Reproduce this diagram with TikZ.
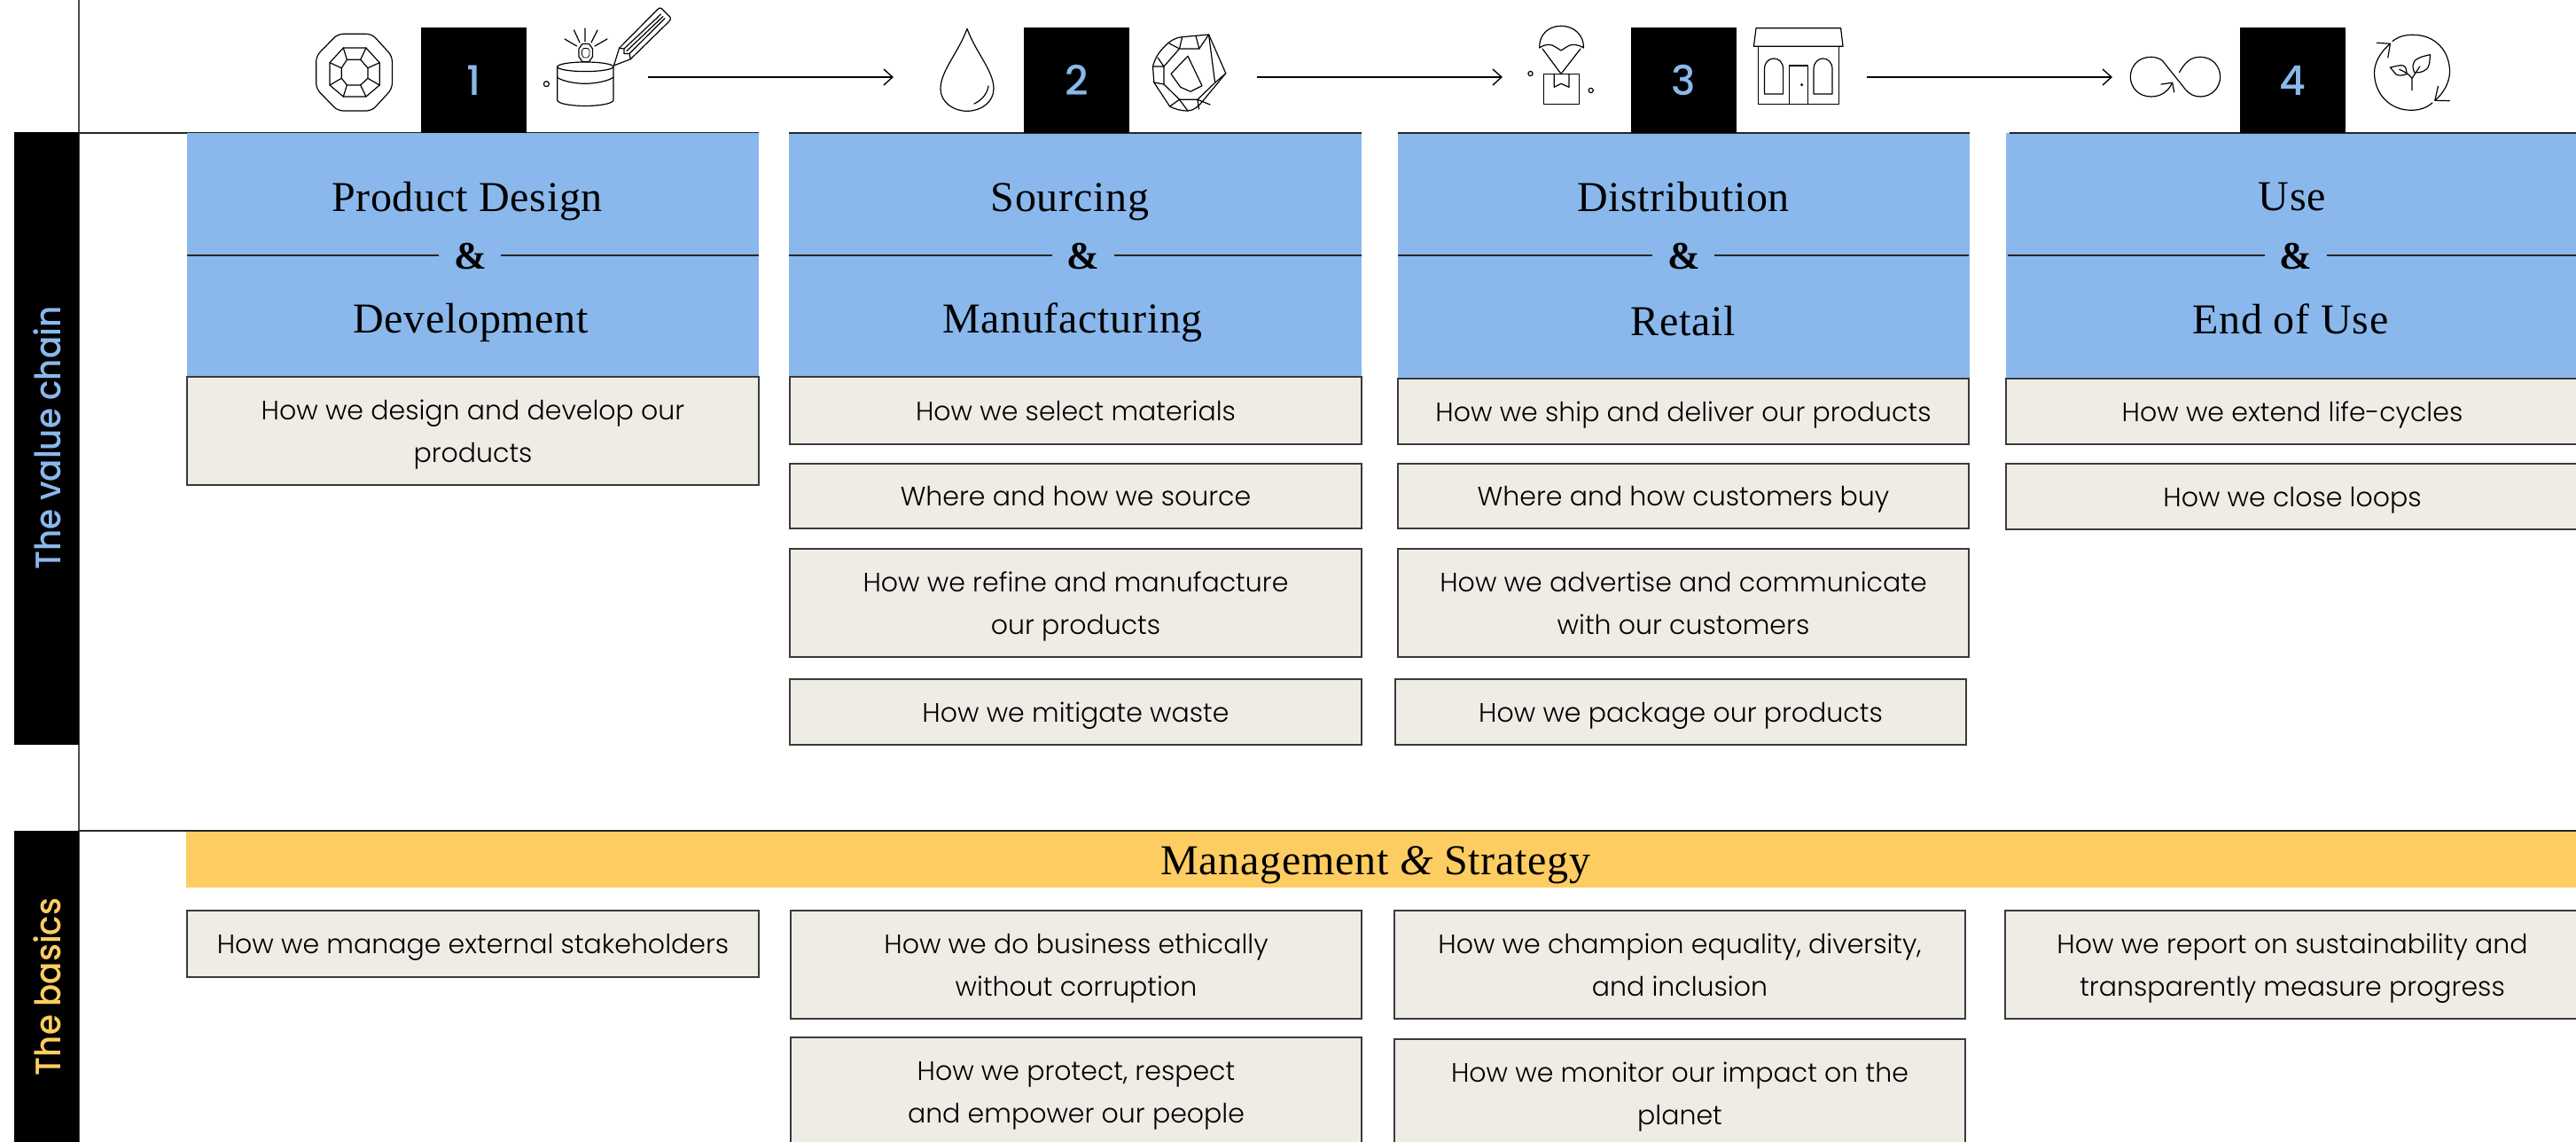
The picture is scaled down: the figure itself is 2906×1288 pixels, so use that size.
\documentclass[tikz,border=0pt]{standalone}
\usepackage{fontspec}
\usetikzlibrary{arrows.meta}
\newfontfamily\bodyf{Poppins Light}
\newfontfamily\sidef{Poppins Medium}
\newfontfamily\numf{Poppins Medium}
\newfontfamily\titlef[LetterSpace=1.5]{Liberation Serif}
\definecolor{hblue}{HTML}{8AB8EC}
\definecolor{hyel}{HTML}{FDCD62}
\definecolor{beige}{HTML}{EEECE4}
\definecolor{edge}{HTML}{3A3A3A}
\newcommand{\tstrut}{\rule[-3.9pt]{0pt}{19.2pt}}
\newcommand{\bx}[6]{%
  \pgfmathsetmacro\bw{(#4-#2)*0.5}\pgfmathsetmacro\bh{(#5-#3)*0.5}%
  \node[cell,minimum width=\bw pt,minimum height=\bh pt] (#1) at ({(#2+#4)/2},{(#3+#5)/2}) {#6};}
\newcommand{\hdr}[4]{%
  \pgfmathsetmacro\bw{(#3-#2)*0.5}\pgfmathsetmacro\bh{(#4-150)*0.5}%
  \node[hdrbox,minimum width=\bw pt,minimum height=\bh pt] (#1) at ({(#2+#3)/2},{(150+#4)/2}) {};}
\newcommand{\blk}[3]{%
  \node[blkbox] (#1) at ({(#2+#2+119)/2},90.5) {#3};}
\tikzset{
  cell/.style={draw=edge,fill=beige,line width=.7pt,inner sep=0pt,align=center,text=black,
    font=\bodyf\fontsize{15}{24}\selectfont},
  hdrbox/.style={fill=hblue,inner sep=0pt,outer sep=0pt},
  blkbox/.style={fill=black,inner sep=0pt,minimum width=59.5pt,minimum height=59.5pt,text=hblue,
    font=\numf\fontsize{23}{24}\selectfont},
  ttl/.style={anchor=base,inner sep=0pt,text=black,font=\titlef\fontsize{24}{26}\selectfont},
  amp/.style={anchor=base,inner sep=0pt,text=black,font=\titlef\bfseries\fontsize{22}{24}\selectfont},
  side/.style={rotate=90,anchor=base,inner sep=0pt,font=\sidef\fontsize{20}{22}\selectfont},
  bar/.style={fill=black,inner sep=0pt,outer sep=0pt,minimum width=36.5pt},
  rule/.style={line width=.7pt,draw=black!85},
  flow/.style={line width=.7pt,draw=black,-{Straight Barb[length=5pt,width=9pt,line width=.7pt]}},
  ico/.style={line width=.6pt,draw=black,line join=round,line cap=round}
}
\begin{document}
\begin{tikzpicture}[x=0.5pt,y=-0.5pt]
\useasboundingbox (0,0) rectangle (2906,1288);
\clip (0,0) rectangle (2906,1288);
\fill[white] (0,0) rectangle (2906,1288);

% frame rules
\draw[line width=.6pt,draw=black!70] (89,0) -- (89,1288);
\draw[rule] (89,150) -- (856,150);

% side bars
\node[bar,minimum height=345.5pt] (barA) at (52.5,494.5) {};
\node[bar,minimum height=180pt] (barB) at (52.5,1117) {};
\node[side,text=hblue] (sideA) at (68,494) {\scalebox{.93}[1]{The value chain}};
\node[side,text=hyel] (sideB) at (68,1113) {\scalebox{.93}[1]{The basics}};

% headers
\hdr{h1}{211}{856}{425}
\hdr{h2}{890}{1536}{425}
\hdr{h3}{1577}{2222}{427}
\hdr{h4}{2263}{2912}{427}
\draw[rule] (h2.north west) -- (h2.north east);
\draw[rule] (h3.north west) -- (h3.north east);
\draw[rule] (2267,150) -- (h4.north east);

% dividers
\draw[rule] (211,288) -- (495,288) (565,288) -- (856,288);
\draw[rule] (890,288) -- (1187,288) (1257,288) -- (1536,288);
\draw[rule] (1577,288) -- (1864,288) (1934,288) -- (2221,288);
\draw[rule] (2265,288) -- (2555,288) (2625,288) -- (2906,288);

% titles
\node[ttl] (t1a) at (527,239) {Product Design};
\node[amp] (t1b) at (531,304) {\&};
\node[ttl] (t1c) at (531,376) {Development};
\node[ttl] (t2a) at (1207,239) {Sourcing};
\node[amp] (t2b) at (1222,304) {\&};
\node[ttl] (t2c) at (1210,376) {Manufacturing};
\node[ttl] (t3a) at (1899,239) {Distribution};
\node[amp] (t3b) at (1900,304) {\&};
\node[ttl] (t3c) at (1899,379) {Retail};
\node[ttl] (t4a) at (2586,238) {Use};
\node[amp] (t4b) at (2590,304) {\&};
\node[ttl] (t4c) at (2584,377) {End of Use};

% value chain boxes
\bx{c1a}{211}{425}{856}{547}{\tstrut How we design and develop our\\\tstrut products}
\bx{c2a}{891}{425}{1536}{501}{\tstrut How we select materials}
\bx{c2b}{891}{523}{1536}{596}{\tstrut Where and how we source}
\bx{c2c}{891}{619}{1536}{741}{\tstrut How we refine and manufacture\\\tstrut our products}
\bx{c2d}{891}{766}{1536}{840}{\tstrut How we mitigate waste}
\bx{c3a}{1577}{427}{2221}{501}{\tstrut How we ship and deliver our products}
\bx{c3b}{1577}{523}{2221}{596}{\tstrut Where and how customers buy}
\bx{c3c}{1577}{619}{2221}{741}{\tstrut How we advertise and communicate\\\tstrut with our customers}
\bx{c3d}{1574}{766}{2218}{840}{\tstrut How we package our products}
\bx{c4a}{2263}{427}{2909}{501}{\tstrut How we extend life-cycles}
\bx{c4b}{2263}{523}{2909}{597}{\tstrut How we close loops}

% basics
\node[fill=hyel,inner sep=0pt,minimum width=1350pt,minimum height=32pt] (mg) at (1560,969) {};
\draw[line width=.8pt,draw=black!85] (89,937) -- (2906,937);
\node[anchor=base,inner sep=0pt,font=\titlef\fontsize{24}{26}\selectfont] (mgt) at (1552,986) {Management {\itshape\&} Strategy};
\bx{d1a}{211}{1027}{856}{1102}{\tstrut How we manage external stakeholders}
\bx{d2a}{892}{1027}{1536}{1149}{\tstrut How we do business ethically\\\tstrut without corruption}
\bx{d2b}{892}{1170}{1536}{1292}{\tstrut How we protect, respect\\\tstrut and empower our people}
\bx{d3a}{1573}{1027}{2217}{1149}{\tstrut How we champion equality, diversity,\\\tstrut and inclusion}
\bx{d3b}{1573}{1172}{2217}{1294}{\tstrut How we monitor our impact on the\\\tstrut planet}
\bx{d4a}{2262}{1027}{2910}{1149}{\tstrut How we report on sustainability and\\\tstrut transparently measure progress}

% step boxes
\blk{n1}{475}{1}
\blk{n2}{1155}{2}
\blk{n3}{1840}{3}
\blk{n4}{2527}{4}

% arrows
\coordinate (a1s) at (731,87); \coordinate (a1e) at (1008,87);
\coordinate (a2s) at (1418,87); \coordinate (a2e) at (1695,87);
\coordinate (a3s) at (2106,87); \coordinate (a3e) at (2383,87);
\draw[flow] (a1s) -- (a1e);
\draw[flow] (a2s) -- (a2e);
\draw[flow] (a3s) -- (a3e);

% icon: cut gem
\draw[ico,rounded corners=3pt] (381,38.3) -- (419.5,38.3) -- (442.4,63.3) -- (442.4,100) -- (419.5,125) -- (381,125) -- (356.7,100) -- (356.7,63.3) -- cycle;
\draw[ico] (387.3,54) -- (412.9,54) -- (428.2,70.7) -- (428.2,96) -- (412.9,109) -- (387.3,109) -- (372,96) -- (372,70.7) -- cycle;
\draw[ico] (391.4,67.3) -- (406.7,67.3) -- (414.9,76.7) -- (414.9,88.3) -- (406.7,96) -- (391.4,96) -- (385.3,88.3) -- (385.3,76.7) -- cycle;
\draw[ico] (387.3,54) -- (391.4,67.3) (412.9,54) -- (406.7,67.3) (428.2,70.7) -- (414.9,76.7) (428.2,96) -- (414.9,88.3)
  (412.9,109) -- (406.7,96) (387.3,109) -- (391.4,96) (372,96) -- (385.3,88.3) (372,70.7) -- (385.3,76.7);

% icon: jar, small gem, pencil
\draw[ico] (660.3,75.3) circle[x radius=31.6,y radius=5.3];
\draw[ico] (628.7,75.3) -- (628.7,113) .. controls (629,117) and (645,119.5) .. (660.3,119.5) .. controls (675,119.5) and (691.5,117) .. (691.9,113) -- (691.9,75.3);
\draw[ico] (628.7,87.3) .. controls (635,92) and (650,94.3) .. (660.3,94.3) .. controls (670,94.3) and (685,92) .. (691.9,87.3);
\draw[ico] (616.4,94.7) circle[radius=3];
\draw[ico] (657,49.5) -- (664.5,49.5) -- (668.5,55) -- (668.5,64) -- (664.5,69.5) -- (657,69.5) -- (653,64) -- (653,55) -- cycle;
\draw[ico,line width=.4pt] (658.5,54.5) -- (663,54.5) -- (665,57) -- (665,62) -- (663,65) -- (658.5,65) -- (656.5,62) -- (656.5,57) -- cycle;
\draw[ico] (660,32) -- (660,47) (647.5,34) -- (654,48) (674,34) -- (667,48) (637,44) -- (650.6,52) (685,44) -- (671,52);
\draw[ico] (692.4,74) -- (698.6,54.3) -- (741.4,11) .. controls (743,9) and (745,8.5) .. (746,9.3) -- (756,19.3) .. controls (757,21) and (756,23) .. (755,24) -- (711.3,66.7) -- cycle;
\draw[ico] (698.6,54.3) -- (704,55) -- (704,60.5) -- (710,60.5) -- (711.3,66.7);
\draw[ico] (704,55) -- (745.5,16) (710,60.5) -- (750.1,20.7) (707,57.5) -- (748,18.5);

% icon: drop
\draw[ico] (1091,32.3) .. controls (1082,58) and (1061,80) .. (1061,100) .. controls (1061,115) and (1075,125.3) .. (1091,125.3) .. controls (1107,125.3) and (1121,115) .. (1121,100) .. controls (1121,80) and (1100,58) .. (1091,32.3);
\draw[ico] (1115,97) .. controls (1114,105) and (1108,113) .. (1099,117);

% icon: rough gem
\draw[ico] (1363.6,39) -- (1382.8,82.7) -- (1356,115) .. controls (1352,120) and (1346,125) .. (1340,125) .. controls (1332,125) and (1325,123) .. (1319.6,120) -- (1301.8,93) -- (1300.5,75) .. controls (1303,65) and (1308,58) .. (1314.5,51.7) .. controls (1320,46) and (1327,42) .. (1333.6,41.7) -- cycle;
\draw[ico] (1340,63.3) -- (1321,83.3) -- (1331.7,98.3) -- (1343,103.3) -- (1356,96.7) -- cycle;
\draw[ico] (1330.5,55) -- (1352.8,55) -- (1363.6,39) -- (1370.6,93.3) -- (1350.9,112.3) -- (1330.5,112.3) -- (1313,95) -- (1313,75) -- cycle;
\draw[ico] (1333.6,41.7) -- (1330.5,55) (1349,40.5) -- (1352.8,55) (1319,49) -- (1330.5,55) (1300.5,75) -- (1313,75) (1301.8,93) -- (1313,95) (1306,65) -- (1313,75) (1319.6,120) -- (1330.5,112.3) (1340,125) -- (1330.5,112.3) (1350.9,112.3) -- (1352.5,123) (1350.9,112.3) -- (1365,118) (1382.8,82.7) -- (1370.6,93.3);

% icon: parachute
\draw[ico] (1736.7,54) .. controls (1736,40) and (1746,29.3) .. (1761,29.3) .. controls (1776,29.3) and (1787,40) .. (1786.4,54) .. controls (1780,50) and (1775,50) .. (1771,51) .. controls (1767,53) and (1764,55) .. (1761,57) .. controls (1758,55) and (1755,53) .. (1751,51) .. controls (1747,50) and (1742,50) .. (1736.7,54) -- cycle;
\draw[ico] (1740,55) -- (1761,83.3) -- (1783,55);
\draw[ico] (1741.8,83.3) rectangle (1781.4,117.3);
\draw[ico] (1753.3,83.3) -- (1753.3,98.3) -- (1761,94.3) -- (1769.9,98.3) -- (1769.9,83.3);
\draw[ico] (1726.5,83) circle[radius=2.6];
\draw[ico] (1794.7,102) circle[radius=2.6];

% icon: shop
\draw[ico] (1981,31.7) -- (2076.6,31.7) -- (2079,52.3) -- (1978.4,52.3) -- cycle;
\draw[ico] (1983.5,52.3) -- (1983.5,117.3) -- (2074.7,117.3) -- (2074.7,52.3);
\draw[ico] (2018.6,117.3) -- (2018.6,74) -- (2039.6,74) -- (2039.6,117.3);
\fill (2032.6,95.7) circle[radius=1.6];
\draw[ico] (1990.5,106) -- (1990.5,78) .. controls (1990.5,62) and (2011.6,62) .. (2011.6,78) -- (2011.6,106) -- cycle;
\draw[ico] (2046,106) -- (2046,78) .. controls (2046,62) and (2067,62) .. (2067,78) -- (2067,106) -- cycle;

% icon: infinity loop
\draw[ico] (2458.4,81.7) .. controls (2464,72) and (2470,64.3) .. (2482,64.3) .. controls (2496,64.3) and (2504.6,75) .. (2504.6,86.7) .. controls (2504.6,98) and (2496,109) .. (2482,109) .. controls (2475,109) and (2470,106) .. (2466,101.7) -- (2439.3,68.3) .. controls (2436,66) and (2432,64.3) .. (2426.5,64.3) .. controls (2412,64.3) and (2403.3,75) .. (2403.3,86.7) .. controls (2403.3,98) and (2412,109) .. (2426.5,109) .. controls (2438,109) and (2446,103) .. (2450.6,93.3);
\draw[ico] (2438,95) -- (2450.6,93.3) -- (2452.7,104);

% icon: circular plant
\draw[ico] (2699,46.5) .. controls (2706,41) and (2713,39.3) .. (2722,39.3) .. controls (2748,39.3) and (2763.5,58) .. (2763.5,81) .. controls (2763.5,92) and (2757,105) .. (2746.8,113.3);
\draw[ico] (2744,116) .. controls (2737,122) and (2729,124.3) .. (2720,124.3) .. controls (2695,124.3) and (2678.5,105) .. (2678.5,82) .. controls (2678.5,70) and (2686,58) .. (2696.4,49.3);
\draw[ico] (2681.5,48.3) -- (2696.4,49.3) -- (2693.8,65);
\draw[ico] (2750.4,97.3) -- (2746.8,113.3) -- (2763.2,113.7);
\draw[ico] (2721,101.7) -- (2721,88.3) -- (2729.8,75);
\draw[ico] (2721,88.3) .. controls (2718,84) and (2713,81) .. (2706.7,78.3);
\draw[ico] (2741.6,61.7) .. controls (2730,64) and (2722,67) .. (2722,74) .. controls (2722,78) and (2723,80) .. (2723.6,81.7) .. controls (2732,83) and (2740,78) .. (2740.5,72) -- cycle;
\draw[ico] (2696.4,76) -- (2706,74) .. controls (2710,73) and (2714,74) .. (2714.5,79) .. controls (2715,82) and (2715,83) .. (2715.4,83.3) .. controls (2710,86) and (2705,85) .. (2703,84) -- cycle;
\end{tikzpicture}
\end{document}
